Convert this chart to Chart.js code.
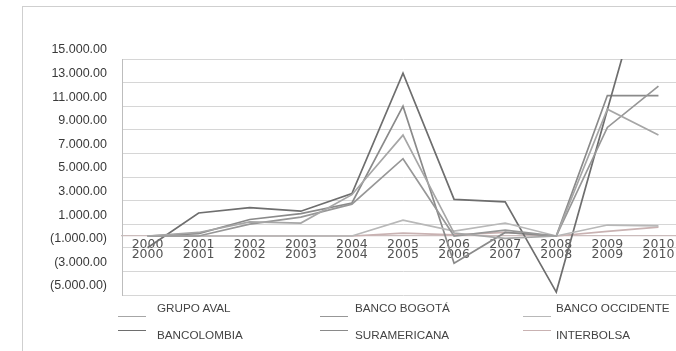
<!DOCTYPE html>
<html><head><meta charset="utf-8">
<script src="https://cdn.jsdelivr.net/npm/chart.js@4/dist/chart.umd.min.js"></script>
<style>
html,body{margin:0;padding:0;width:676px;height:351px;overflow:hidden;background:#fff;}
#frame{position:absolute;left:22px;top:6px;width:720px;height:420px;border-left:1px solid #cfcfcf;border-top:1px solid #cfcfcf;}
#wrap{position:absolute;left:0;top:0;width:700px;height:351px;}
#legend{position:absolute;left:0;top:0;width:676px;height:351px;pointer-events:none;font-family:"Liberation Sans",Arial,sans-serif;font-size:11.7px;color:#444;}
.lbl{position:absolute;white-space:nowrap;line-height:14px;transform:translateY(-50%);}
.sw{position:absolute;height:0;border-top:1.5px solid #999;}
</style></head>
<body>
<div id="frame"></div>
<div id="wrap"><canvas id="c" width="700" height="351"></canvas></div>
<div id="legend"></div>
<script>
// ---- data ----
const years = ['2000','2001','2002','2003','2004','2005','2006','2007','2008','2009','2010'];
const seriesNames = ['GRUPO AVAL','BANCO BOGOTÁ','BANCO OCCIDENTE','BANCOLOMBIA','SURAMERICANA','INTERBOLSA'];
const grupoAval      = [0, 300, 1200, 1100, 3500, 8550, 250, -200, 0, 10750, 8550];
const bancoBogota    = [0, 0, 1000, 1600, 2700, 6550, 0, 500, 0, 9200, 12700];
const bancoOccidente = [0, 0, 0, 0, 0, 1350, 420, 1100, 0, 930, 850];
const bancolombia    = [-1000, 1950, 2400, 2100, 3600, 13800, 3100, 2900, -4750, 10700, 26000];
const suramericana   = [0, 200, 1400, 1900, 2800, 11000, -2300, 300, 0, 11900, 11900];
const interbolsa     = [0, 0, 0, 0, 0, 250, 100, 300, 0, 400, 760];
// y tick labels, top to bottom, as printed
const yTickLabels = ['15.000.00','13.000.00','11.000.00','9.000.00','7.000.00','5.000.00','3.000.00','1.000.00','(1.000.00)','(3.000.00','(5.000.00)'];
const yMin = -5000, yMax = 15000, yStep = 2000;

// ---- styles ----
const seriesValues = [grupoAval, bancoBogota, bancoOccidente, bancolombia, suramericana, interbolsa];
const seriesColors = ['#a6a6a6','#979797','#b8b8b8','#6e6e6e','#8a8a8a','#c9b2b2'];

const datasets = seriesNames.map((n,i)=>({
  label:n, data:seriesValues[i], borderColor:seriesColors[i], backgroundColor:seriesColors[i],
  borderWidth:1.7, pointRadius:0, tension:0, fill:false
}));

new Chart(document.getElementById('c'), {
  type:'line',
  data:{labels: years.map(y=>[y,y]), datasets},
  options:{
    responsive:false, animation:false,
    layout:{padding:{left:0, right:16, top:59, bottom:56}},
    plugins:{legend:{display:false}, tooltip:{enabled:false}},
    scales:{
      x:{
        type:'category', offset:true, position:{y:0},
        grid:{display:false, drawTicks:false},
        border:{display:true, color:'#cbbcbc', width:1.2},
        ticks:{autoSkip:false, maxRotation:0, padding:4, color:'#555',
               font:{family:'"DejaVu Sans", sans-serif', size:12.5, lineHeight:0.78}},
        afterFit:(s)=>{ s.height = 0; }
      },
      y:{
        min:yMin, max:yMax,
        grid:{color:'#d6d6d6', lineWidth:1, drawTicks:false},
        border:{display:true, color:'#bdbdbd'},
        ticks:{stepSize:yStep, padding:15, labelOffset:-9, color:'#3a3a3a',
               font:{family:'"Liberation Sans", Arial, sans-serif', size:12.5},
               callback:(v)=>{ const idx = Math.round((yMax - v)/yStep); return yTickLabels[idx]; }},
        afterFit:(s)=>{ s.width = 122; }
      }
    }
  }
});

// ---- HTML legend (3 columns x 2 rows) ----
const legendEl = document.getElementById('legend');
const colSwatchX = [118, 320, 523], colTextX = [157, 355, 556];
const rowTextY = [308, 335], rowSwatchY = [316, 330];
seriesNames.forEach((n,i)=>{
  const col = i % 3, row = Math.floor(i/3);
  const sw = document.createElement('div'); sw.className='sw';
  sw.style.left = colSwatchX[col]+'px'; sw.style.top = rowSwatchY[row]+'px'; sw.style.width='28px';
  sw.style.borderTopColor = seriesColors[i];
  legendEl.appendChild(sw);
  const t = document.createElement('div'); t.className='lbl'; t.textContent = n;
  t.style.left = colTextX[col]+'px'; t.style.top = rowTextY[row]+'px';
  legendEl.appendChild(t);
});
</script>
</body></html>
